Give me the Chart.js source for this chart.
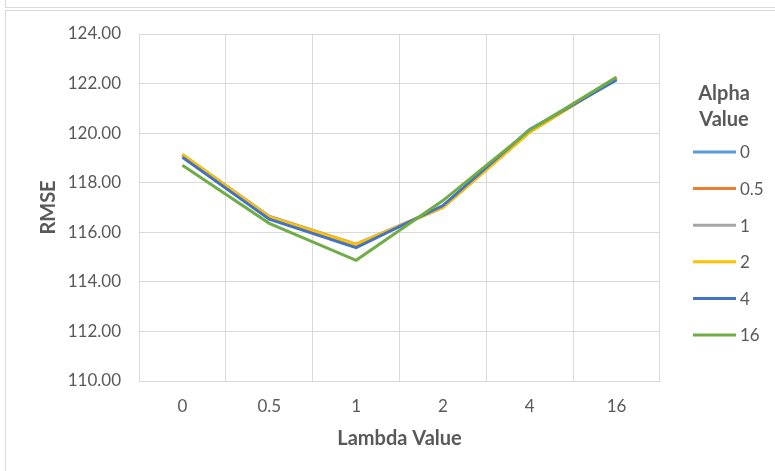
<!DOCTYPE html>
<html>
<head>
<meta charset="utf-8">
<script src="https://cdn.jsdelivr.net/npm/chart.js@4/dist/chart.umd.min.js"></script>
<style>
  html, body { margin: 0; padding: 0; background: #ffffff; }
  #wrap { position: relative; width: 775px; height: 471px; overflow: hidden; }
  #c { position: absolute; left: 0; top: 0; }
  .rule { position: absolute; background: #d9d9d9; pointer-events: none; }
</style>
</head>
<body>
<div id="wrap">
  <canvas id="c" width="775" height="471"></canvas>
  <!-- sheet frame lines -->
  <div class="rule" style="left:5px; top:0; width:1px; height:7px;"></div>
  <div class="rule" style="left:5px; top:7px; width:770px; height:1px;"></div>
  <div class="rule" style="left:5px; top:10px; width:770px; height:1px;"></div>
  <div class="rule" style="left:5px; top:10px; width:1px; height:461px;"></div>
</div>
<script>
// Lambda values on the x axis
const lambdaValues = ['0', '0.5', '1', '2', '4', '16'];

// Alpha values (one line each)
const alphaLabels = ['0', '0.5', '1', '2', '4', '16'];

// RMSE for each alpha, across the lambda values
const rmseAlpha0   = [119.12, 116.62, 115.50, 117.02, 120.08, 122.20];
const rmseAlpha0_5 = [119.13, 116.63, 115.51, 117.01, 120.06, 122.21];
const rmseAlpha1   = [119.13, 116.65, 115.52, 117.00, 120.05, 122.22];
const rmseAlpha2   = [119.14, 116.62, 115.51, 117.00, 120.04, 122.22];
const rmseAlpha4   = [119.03, 116.53, 115.38, 117.08, 120.15, 122.15];
const rmseAlpha16  = [118.70, 116.36, 114.87, 117.28, 120.12, 122.26];

// y axis range
const yMin = 110;
const yMax = 124;
const yStep = 2;

const seriesColors = ['#5B9BD5', '#ED7D31', '#A5A5A5', '#FFC000', '#4472C4', '#70AD47'];
const seriesValues = [rmseAlpha0, rmseAlpha0_5, rmseAlpha1, rmseAlpha2, rmseAlpha4, rmseAlpha16];

const textColor = '#595959';
const gridColor = '#d9d9d9';
const fontFamily = 'Lato, "Open Sans", sans-serif';

Chart.defaults.font.family = fontFamily;
Chart.defaults.color = textColor;

// Legend at the right with a two-line title
const sideLegend = {
  id: 'sideLegend',
  afterDraw(chart) {
    const ctx = chart.ctx;
    ctx.save();
    ctx.fillStyle = textColor;
    ctx.textAlign = 'center';
    ctx.textBaseline = 'middle';
    ctx.font = 'bold 20px ' + fontFamily;
    ctx.fillText('Alpha', 724, 94);
    ctx.fillText('Value', 724, 120);
    ctx.font = '17px ' + fontFamily;
    ctx.textAlign = 'left';
    chart.data.datasets.forEach((ds, i) => {
      const y = 152 + i * 36.6;
      ctx.strokeStyle = ds.borderColor;
      ctx.lineWidth = 3;
      ctx.beginPath();
      ctx.moveTo(693, y);
      ctx.lineTo(736, y);
      ctx.stroke();
      ctx.fillText(ds.label, 740, y + 1);
    });
    ctx.restore();
  }
};

new Chart(document.getElementById('c'), {
  type: 'line',
  data: {
    labels: lambdaValues,
    datasets: alphaLabels.map((a, i) => ({
      label: a,
      data: seriesValues[i],
      borderColor: seriesColors[i],
      backgroundColor: seriesColors[i],
      borderWidth: 3,
      pointRadius: 0,
      tension: 0,
      fill: false,
      // later series are painted over earlier ones
      order: alphaLabels.length - i
    }))
  },
  options: {
    responsive: false,
    animation: false,
    layout: { padding: { left: 0, top: 34, right: 115, bottom: 0 } },
    plugins: {
      legend: { display: false },
      tooltip: { enabled: false }
    },
    scales: {
      x: {
        type: 'category',
        offset: true,
        grid: { offset: true, color: gridColor, lineWidth: 1, drawTicks: false },
        border: { display: true, color: gridColor },
        ticks: { padding: 15, color: textColor, font: { size: 17 } },
        title: {
          display: true,
          text: 'Lambda Value',
          color: textColor,
          font: { size: 20, weight: 'bold' },
          padding: { top: 0, bottom: 20 }
        },
        afterFit(scale) { scale.height = 90; }
      },
      y: {
        min: yMin,
        max: yMax,
        grid: { color: gridColor, lineWidth: 1, drawTicks: false },
        border: { display: true, color: gridColor },
        ticks: {
          stepSize: yStep,
          padding: 18,
          color: textColor,
          font: { size: 17 },
          callback: v => Number(v).toFixed(2)
        },
        title: {
          display: true,
          text: 'RMSE',
          color: textColor,
          font: { size: 20, weight: 'bold' },
          padding: { top: 37, bottom: 0 }
        },
        afterFit(scale) { scale.width = 139; }
      }
    }
  },
  plugins: [sideLegend]
});
</script>
</body>
</html>
